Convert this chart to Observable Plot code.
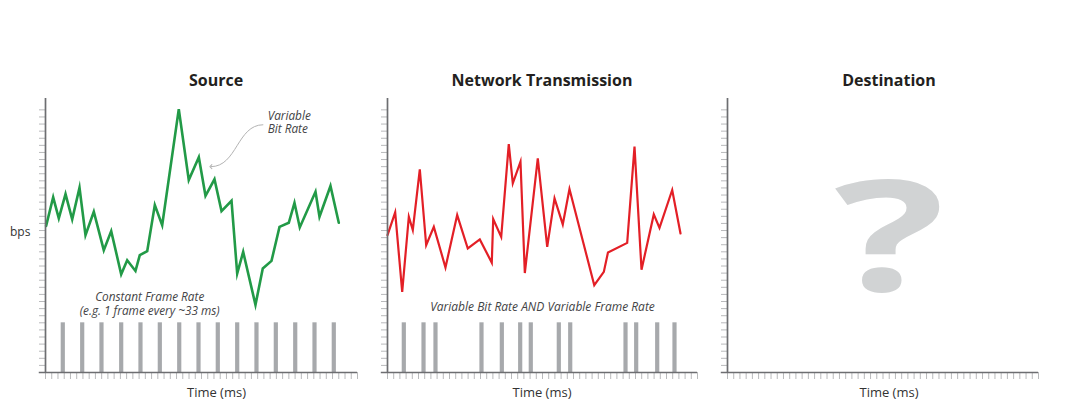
<!DOCTYPE html>
<html><head><meta charset="utf-8">
<script src="https://cdn.jsdelivr.net/npm/d3@7"></script>
<script src="https://cdn.jsdelivr.net/npm/@observablehq/plot@0.6"></script>
<style>
body{margin:0;background:#fff;font-family:"Open Sans",sans-serif;}
#root{position:relative;width:1080px;height:417px;overflow:hidden;background:#fff;}
.panel{position:absolute;top:60px;}
.lbl{position:absolute;transform:translateX(-50%);white-space:nowrap;color:#231f20;}
.title{font-weight:700;font-size:16px;line-height:20px;top:70px;}
.xl{font-size:13px;line-height:18px;top:383px;color:#333;}
.yl{position:absolute;font-size:12px;line-height:16px;left:10px;top:224px;color:#333;}
</style></head><body><div id="root"></div>
<script>
// ---- data (time in tick units, bps in tick units) ----
const srcTime = [0.1,1.23,2.13,3.21,4.28,5.45,6.41,7.74,9.34,10.53,12.13,13.09,14.42,15.11,16.3,17.52,18.7,21.36,22.96,24.57,25.64,27.08,28.21,29.81,30.72,31.68,33.65,34.82,36.22,37.5,38.99,39.9,40.75,43.27,43.91,45.67,47.0];
const srcBps  = [20.66,24.68,21.71,25.14,21.57,26.03,19.35,22.64,17.23,19.92,13.84,15.82,14.31,16.53,17.09,23.59,20.76,37.1,27.12,30.32,24.9,27.22,22.74,24.19,13.94,16.99,9.53,14.65,15.72,20.52,21.09,23.91,20.44,25.47,21.94,26.27,21.09];
const netTime = [0,1.24,2.37,3.44,4.08,5.21,6.24,7.47,9.35,11.24,12.95,14.89,16.82,17.05,18.34,19.56,20.21,21.45,22.15,24.24,25.76,26.94,28.27,29.35,33.35,34.89,35.56,38.66,39.84,40.97,42.95,43.87,45.92,47.26];
const netBps  = [19.35,22.56,11.37,21.94,20.06,28.63,17.94,20.52,14.8,22.18,17.47,18.74,15.47,21.61,19.11,32.16,26.65,29.7,14.01,30.18,17.7,24.53,20.86,25.85,12.29,14.17,16.91,18.26,31.82,14.48,22.27,20.38,25.71,19.59];
const srcFrames = [2.77,5.88,8.97,12.13,15.22,18.32,21.43,24.52,27.61,30.72,33.81,36.91,40.02,43.11,46.2];
const netFrames = [2.63,5.81,7.74,15.16,18.44,21.4,23.11,27.63,29.47,38.39,40.11,43.5,46.29];
const frameMarkHeight = 7;
const panelTitles = ["Source","Network Transmission","Destination"];
const xLabel = "Time (ms)";
const yLabel = "bps";

const root = document.getElementById("root");
const xTicks = d3.range(0, 51);
const yTicks = d3.range(1, 38);

function base(extra) {
  return [
    Plot.axisX({ticks: xTicks, tickSize: 7, tickFormat: () => "", label: null, stroke: "#b9babc", strokeWidth: 1}),
    Plot.axisY({ticks: yTicks, tickSize: 6, tickFormat: () => "", label: null, stroke: "#b9babc", strokeWidth: 1}),
    ...extra,
    Plot.ruleY([0], {x1: -1, x2: 50, stroke: "#6d6e71", strokeWidth: 1.7}),
    Plot.ruleX([0], {stroke: "#6d6e71", strokeWidth: 1.7})
  ];
}

function panel(left, width, marginLeft, marks) {
  const svg = Plot.plot({
    width, height: 345,
    marginLeft, marginRight: 10, marginTop: 38, marginBottom: 33,
    x: {domain: [0, 50], label: null},
    y: {domain: [0, 38.6], label: null},
    style: {fontFamily: "Open Sans", background: "transparent", overflow: "visible"},
    marks: base(marks)
  });
  const d = document.createElement("div");
  d.className = "panel";
  d.style.left = left + "px";
  d.appendChild(svg);
  root.appendChild(d);
  return svg;
}

const italic = {fontStyle: "italic", fill: "#444446", fontSize: 11.8, fontFamily: "Open Sans"};

// Source
panel(0, 367, 45, [
  Plot.ruleX(srcFrames, {x: d => d, y1: 0, y2: frameMarkHeight, stroke: "#a7a9ac", strokeWidth: 4.2}),
  Plot.line(srcTime.map((t, i) => ({t, v: srcBps[i]})), {x: "t", y: "v", stroke: "#229a47", strokeWidth: 2.6, strokeLinejoin: "miter", strokeMiterlimit: 6}),
  Plot.link([0], {x1: 34.9, y1: 34.9, x2: 26.5, y2: 29.0, curve: "bump-x", stroke: "#b3b3b3", strokeWidth: 1, markerEnd: "arrow"}),
  Plot.text(["Variable"], {x: 35.6, y: 36.05, textAnchor: "start", lineAnchor: "middle", ...italic}),
  Plot.text(["Bit Rate"], {x: 35.6, y: 34.28, textAnchor: "start", lineAnchor: "middle", ...italic}),
  Plot.text(["Constant Frame Rate\n(e.g. 1 frame every ~33 ms)"], {x: 16.7, y: 9.7, textAnchor: "middle", lineAnchor: "middle", lineHeight: 1.13, ...italic})
]);

// Network
panel(360, 347, 27, [
  Plot.ruleX(netFrames, {x: d => d, y1: 0, y2: frameMarkHeight, stroke: "#a7a9ac", strokeWidth: 4.2}),
  Plot.line(netTime.map((t, i) => ({t, v: netBps[i]})), {x: "t", y: "v", stroke: "#e31f26", strokeWidth: 2.2, strokeLinejoin: "miter", strokeMiterlimit: 6}),
  Plot.text(["Variable Bit Rate AND Variable Frame Rate"], {x: 25, y: 9.2, textAnchor: "middle", lineAnchor: "middle", ...italic, fontSize: 12})
]);

// Destination
const dest = panel(700, 348, 27, [
  Plot.text(["?"], {frameAnchor: "middle", dx: 6.5, dy: 55, lineAnchor: "bottom", textAnchor: "middle", fontSize: 154, fontWeight: "bold", fill: "#d1d3d4", fontFamily: "Open Sans"})
]);

// widen the question mark glyph
(function () {
  const t = Array.from(dest.querySelectorAll("text")).find(e => e.textContent === "?");
  if (!t) return;
  const g = t.closest("g[aria-label='text']") || t.parentNode;
  const sr = dest.getBoundingClientRect();
  const r = t.getBoundingClientRect();
  const cx = r.left + r.width / 2 - sr.left;
  const w = document.createElementNS("http://www.w3.org/2000/svg", "g");
  w.setAttribute("transform", `translate(${cx},0) scale(1.5,1) translate(${-cx},0)`);
  g.parentNode.insertBefore(w, g);
  w.appendChild(g);
})();

// HTML labels
const titleX = [216, 542, 889];
const xLabelX = [216.5, 542, 889];
panelTitles.forEach((s, i) => {
  const a = document.createElement("div");
  a.className = "lbl title"; a.style.left = titleX[i] + "px"; a.textContent = s;
  root.appendChild(a);
  const b = document.createElement("div");
  b.className = "lbl xl"; b.style.left = xLabelX[i] + "px"; b.textContent = xLabel;
  root.appendChild(b);
});
const yl = document.createElement("div");
yl.className = "yl"; yl.textContent = yLabel;
root.appendChild(yl);
</script>
</body></html>
